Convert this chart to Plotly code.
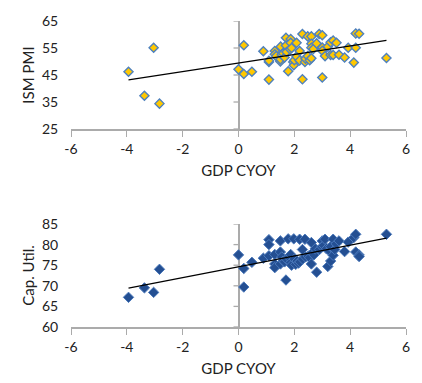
import numpy as np
import plotly.graph_objects as go

# ---- data ----
gdp_top = [-3.94, -3.37, -3.04, -2.83, 0.0, 0.19, 0.19, 0.48, 0.89, 1.09, 1.09, 1.09,
           1.3, 1.3, 1.35, 1.5, 1.5, 1.51, 1.55, 1.6, 1.65, 1.7, 1.7, 1.72, 1.78, 1.85,
           1.87, 1.87, 1.9, 1.96, 1.98, 2.0, 2.08, 2.08, 2.19, 2.19, 2.29, 2.29, 2.38,
           2.4, 2.48, 2.48, 2.55, 2.61, 2.61, 2.61, 2.61, 2.68, 2.8, 2.89, 3.0, 3.0,
           3.0, 3.0, 3.1, 3.2, 3.3, 3.3, 3.39, 3.39, 3.51, 3.6, 3.8, 3.93, 4.13, 4.2,
           4.2, 4.32, 5.3]
pmi = [46.2, 37.3, 55.1, 34.4, 47.1, 56.0, 45.4, 46.2, 53.8, 49.8, 50.3, 43.3,
       53.9, 52.7, 52.0, 50.0, 50.8, 55.5, 52.5, 53.0, 51.5, 58.8, 55.9, 53.5, 46.4, 54.5,
       58.3, 56.9, 55.0, 49.8, 48.6, 50.5, 56.9, 51.8, 53.9, 50.4, 60.2, 43.4, 49.8,
       51.0, 59.3, 52.0, 50.5, 59.3, 56.6, 55.1, 51.2, 54.6, 56.7, 60.2, 59.7, 55.2,
       54.0, 44.1, 52.0, 55.5, 57.1, 52.4, 57.8, 52.4, 56.9, 52.5, 51.5, 55.1, 49.6, 60.4,
       55.1, 60.3, 51.3]

gdp_bot = [-3.94, -3.37, -3.04, -2.83, 0.0, 0.19, 0.19, 0.48, 0.89, 1.09, 1.09, 1.09,
           1.3, 1.3, 1.3, 1.5, 1.5, 1.5, 1.55, 1.6, 1.65, 1.7, 1.72, 1.78, 1.8, 1.87,
           1.87, 1.9, 1.98, 2.0, 2.05, 2.1, 2.15, 2.19, 2.2, 2.29, 2.3, 2.38, 2.4, 2.5,
           2.55, 2.61, 2.61, 2.65, 2.7, 2.75, 2.8, 2.9, 3.0, 3.0, 3.05, 3.1, 3.15, 3.2,
           3.25, 3.3, 3.3, 3.39, 3.39, 3.45, 3.5, 3.6, 3.8, 3.93, 4.13, 4.2, 4.2, 4.32,
           4.32, 5.3]
cap_util = [67.2, 69.5, 68.4, 74.0, 77.5, 74.2, 69.7, 75.7, 76.7, 81.2, 80.0, 77.3,
            77.6, 75.3, 74.4, 78.2, 80.9, 75.3, 77.0, 76.0, 75.8, 71.4, 76.5, 81.4, 77.0, 77.6,
            75.6, 75.0, 81.4, 76.5, 75.2, 76.0, 75.5, 81.3, 75.8, 78.8, 76.5, 81.3, 77.0, 77.2,
            76.8, 80.5, 75.3, 78.0, 77.5, 79.0, 73.3, 78.8, 80.9, 79.5, 79.8, 81.3, 79.0, 74.7,
            78.5, 76.0, 79.5, 81.3, 77.4, 78.8, 80.2, 80.9, 78.3, 80.6, 81.7, 82.5, 78.2, 77.5,
            77.1, 82.5]

x_ticks = [-6, -4, -2, 0, 2, 4, 6]
x_tick_labels = ["-6", "-4", "-2", "0", "2", "4", "6"]
pmi_ticks = [25, 35, 45, 55, 65]
cap_ticks = [60, 65, 70, 75, 80, 85]


def trend(xs, ys):
    m, b = np.polyfit(xs, ys, 1)
    xl = [min(xs), max(xs)]
    return xl, [float(m * v + b) for v in xl]


FONT = "Lato"
AXC = "#ABABAB"
TXT = "#222222"
TICKFONT = dict(family=FONT, size=14, color=TXT)
TITLEFONT = dict(family=FONT, size=15, color=TXT)

fig = go.Figure()

# top chart
fig.add_trace(go.Scatter(x=gdp_top, y=pmi, mode="markers", xaxis="x", yaxis="y",
                         marker=dict(symbol="diamond", size=7, color="#FFC800",
                                     line=dict(color="#4F81BD", width=1.4)),
                         showlegend=False))
tx, ty = trend(gdp_top, pmi)
fig.add_trace(go.Scatter(x=tx, y=ty, mode="lines", xaxis="x", yaxis="y",
                         line=dict(color="black", width=1.2), showlegend=False))

# bottom chart
fig.add_trace(go.Scatter(x=gdp_bot, y=cap_util, mode="markers", xaxis="x2", yaxis="y2",
                         marker=dict(symbol="diamond", size=8, color="#244F92",
                                     line=dict(color="#4A78BA", width=1)),
                         showlegend=False))
bx, by = trend(gdp_bot, cap_util)
fig.add_trace(go.Scatter(x=bx, y=by, mode="lines", xaxis="x2", yaxis="y2",
                         line=dict(color="black", width=1.2), showlegend=False))

# small tick marks on the vertical axis line drawn at x = 0
for xr, yr, ticks in (("x", "y", pmi_ticks), ("x2", "y2", cap_ticks)):
    for t in ticks:
        fig.add_shape(type="line", xref=xr, yref=yr, xsizemode="pixel", xanchor=0,
                      x0=-5, x1=0, y0=t, y1=t, line=dict(color=AXC, width=1.3),
                      layer="below")

xcommon = dict(range=[-6, 6], tickvals=x_ticks, ticktext=x_tick_labels, showline=True,
               linecolor=AXC, linewidth=1.5, ticks="outside", ticklen=6, tickcolor=AXC,
               tickwidth=1.3, showgrid=False, zeroline=True, zerolinecolor=AXC,
               zerolinewidth=1.8, automargin=False, tickfont=TICKFONT, fixedrange=True)

ycommon = dict(showline=False, ticks="outside", ticklen=9, tickcolor="white",
               showgrid=False, zeroline=False, automargin=False,
               tickfont=TICKFONT, fixedrange=True)

fig.update_layout(
    width=422, height=383,
    margin=dict(l=71, r=16, t=21, b=56),
    paper_bgcolor="white", plot_bgcolor="white",
    font=dict(family=FONT, color=TXT),
    showlegend=False,
    xaxis=dict(domain=[0, 1], anchor="y",
               title=dict(text="GDP CYOY", font=TITLEFONT, standoff=10), **xcommon),
    yaxis=dict(domain=[0.647, 1], anchor="x", range=[25, 65], tickvals=pmi_ticks,
               title=dict(text="ISM PMI", font=TITLEFONT, standoff=3), **ycommon),
    xaxis2=dict(domain=[0, 1], anchor="y2",
                title=dict(text="GDP CYOY", font=TITLEFONT, standoff=10), **xcommon),
    yaxis2=dict(domain=[0, 0.3366], anchor="x2", range=[60, 85], tickvals=cap_ticks,
                title=dict(text="Cap. Util.", font=TITLEFONT, standoff=3), **ycommon),
)

fig.write_html("out.html", config={"displayModeBar": False},
               post_script="document.body.style.margin='0';document.body.style.padding='0';")
